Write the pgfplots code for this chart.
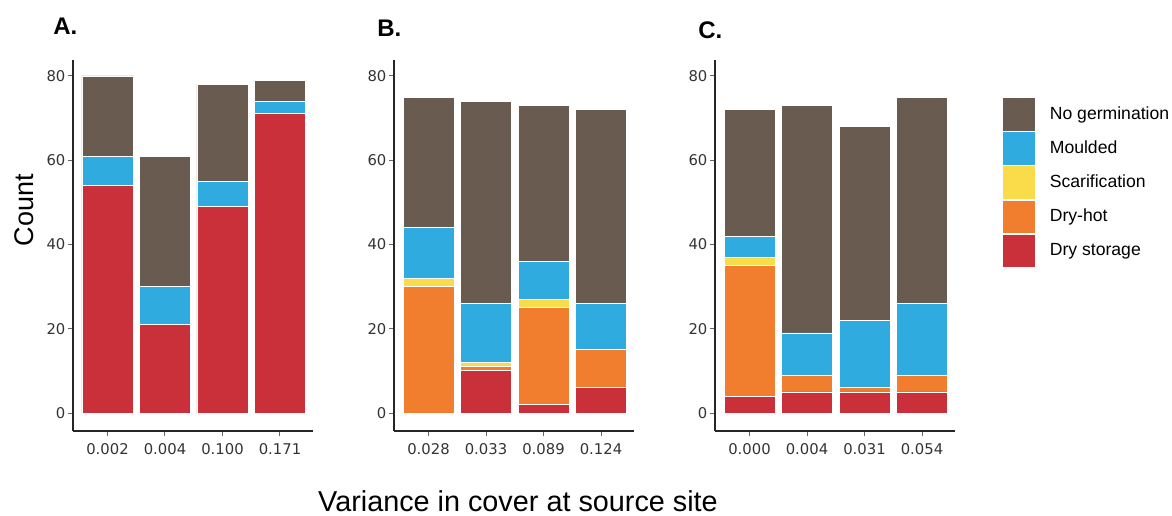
\documentclass[border=0pt]{standalone}
\usepackage{fontspec}
\setmainfont{Liberation Sans}
\newfontfamily\tickfont{DejaVu Sans}
\usepackage{pgfplots}
\usepackage{pgfplotstable}
\pgfplotsset{compat=1.18}

\definecolor{cBrown}{HTML}{6A5B50}
\definecolor{cBlue}{HTML}{2FABE0}
\definecolor{cYellow}{HTML}{FADB4A}
\definecolor{cOrange}{HTML}{F07E2E}
\definecolor{cRed}{HTML}{C9303A}

\pgfplotstableread{
x red orange yellow blue brown
0 54 0 0 7 19
1 21 0 0 9 31
2 49 0 0 6 23
3 71 0 0 3 5
}\dataA
\pgfplotstableread{
x red orange yellow blue brown
0 0 30 2 12 31
1 10 1 1 14 48
2 2 23 2 9 37
3 6 9 0 11 46
}\dataB
\pgfplotstableread{
x red orange yellow blue brown
0 4 31 2 5 30
1 5 4 0 10 54
2 5 1 0 16 46
3 5 4 0 17 49
}\dataC

\pgfplotsset{
  panel/.style={
    scale only axis, width=120pt, height=185.5pt, anchor=south west,
    ybar stacked, bar width=0.887,
    xmin=-0.6, xmax=3.574, ymin=-4.27, ymax=83.8,
    enlargelimits=false,
    axis x line*=bottom, axis y line*=left,
    axis line style={-, black!85, line width=0.65pt},
    xtick={0,1,2,3}, ytick={0,20,40,60,80},
    tick align=outside, major tick length=2.6pt,
    tick style={black!60, line width=0.5pt},
    /pgf/number format/assume math mode=true,
    ticklabel style={font=\tickfont\fontsize{7.4}{8}\selectfont, text=black!80},
    yticklabel style={xshift=2.3pt},
    every axis plot/.append style={draw=white, line width=0.45pt,
      legend image code/.code={\draw[##1, line width=0.3pt] (0pt,-8.4pt) rectangle (16.4pt,8.4pt);}},
  },
}

\begin{document}
\begin{tikzpicture}
\begin{axis}[panel, at={(36.5pt,42pt)}, xticklabels={0.002,0.004,0.100,0.171}]
\addplot[fill=cRed] table[x=x,y=red]{\dataA};
\addplot[fill=cOrange] table[x=x,y=orange]{\dataA};
\addplot[fill=cYellow] table[x=x,y=yellow]{\dataA};
\addplot[fill=cBlue] table[x=x,y=blue]{\dataA};
\addplot[fill=cBrown] table[x=x,y=brown]{\dataA};
\end{axis}
\begin{axis}[panel, at={(197pt,42pt)}, xticklabels={0.028,0.033,0.089,0.124}]
\addplot[fill=cRed] table[x=x,y=red]{\dataB};
\addplot[fill=cOrange] table[x=x,y=orange]{\dataB};
\addplot[fill=cYellow] table[x=x,y=yellow]{\dataB};
\addplot[fill=cBlue] table[x=x,y=blue]{\dataB};
\addplot[fill=cBrown] table[x=x,y=brown]{\dataB};
\end{axis}
\begin{axis}[panel, at={(357.5pt,42pt)}, xticklabels={0.000,0.004,0.031,0.054},
  reverse legend,
  legend style={at={(1.196,0.900)}, anchor=north west, draw=none, fill=none,
    inner sep=0pt, outer sep=0pt, row sep=0pt,
    nodes={inner sep=0pt}, font=\fontsize{8.8}{10}\selectfont,
    /tikz/every odd column/.append style={column sep=7.2pt}},
  legend cell align=left]
\addplot[fill=cRed] table[x=x,y=red]{\dataC};
\addplot[fill=cOrange] table[x=x,y=orange]{\dataC};
\addplot[fill=cYellow] table[x=x,y=yellow]{\dataC};
\addplot[fill=cBlue] table[x=x,y=blue]{\dataC};
\addplot[fill=cBrown] table[x=x,y=brown]{\dataC};
\legend{Dry storage, Dry-hot, Scarification, Moulded, No germination}
\end{axis}
\node[anchor=base west, inner sep=0pt, font=\bfseries\fontsize{12}{14}\selectfont] at (26.5pt,240pt) {A.};
\node[anchor=base west, inner sep=0pt, font=\bfseries\fontsize{12}{14}\selectfont] at (188.5pt,239pt) {B.};
\node[anchor=base west, inner sep=0pt, font=\bfseries\fontsize{12}{14}\selectfont] at (349pt,238pt) {C.};
\node[rotate=90, anchor=base, inner sep=0pt, font=\fontsize{13.5}{15}\selectfont] at (16.5pt,152.5pt) {Count};
\node[anchor=base, inner sep=0pt, font=\fontsize{14.4}{16}\selectfont] at (259pt,2pt) {Variance in cover at source site};
\pgfresetboundingbox
\useasboundingbox (0pt,0pt) rectangle (586pt,257.5pt);
\end{tikzpicture}
\end{document}
